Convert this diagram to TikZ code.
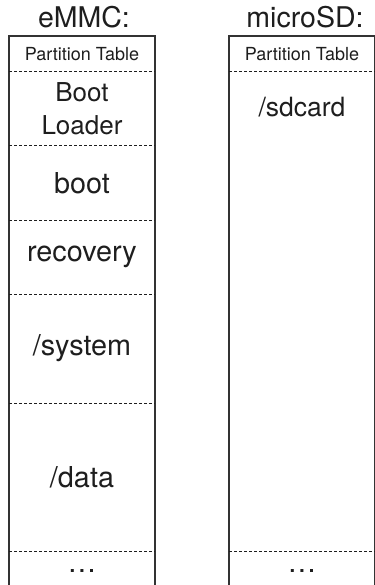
\documentclass[tikz,border=0pt]{standalone}
\usepackage{fontspec}
\setmainfont{TeX Gyre Heros}
\usetikzlibrary{positioning}
\definecolor{ink}{HTML}{1E1E1E}
\definecolor{rim}{HTML}{333333}
\tikzset{
    slot/.style={
           rectangle,
           draw=none,
           minimum width=146pt,
           inner sep=0pt,
           outer sep=0pt,
           align=center,
           text=ink,
           font=\fontsize{28.8}{33}\selectfont
           },
    smallslot/.style={
           slot,
           font=\fontsize{18}{20}\selectfont
           },
    title/.style={
              inner sep=0pt,
              anchor=base,
              text=ink,
              font=\fontsize{28.5}{33}\selectfont
                  },
    frame/.style={
                  draw=rim,
                  line width=1.3pt
                  },
    divider/.style={
                  draw=ink,
                  line width=1pt,
                  dash pattern=on 3pt off 2pt
                  },
}
\begin{document}
\begin{tikzpicture}[x=1pt, y=-1pt, node distance=0pt]
  \useasboundingbox (0,0) rectangle (374,585);
     % eMMC
     \node[title]  (emmc)                                         at (84,27.5) {eMMC:};
     \node[smallslot, minimum height=36pt] (emmcpt)                 at (82,54)   {Partition Table};
     \node[slot, minimum height=74pt, font=\fontsize{26}{33}\selectfont]
                                        (emmcbl)   [below=of emmcpt]   {Boot\\Loader};
     \node[slot, minimum height=74pt]   (emmcboot) [below=of emmcbl]   {boot};
     \node[slot, minimum height=74pt]   (emmcrec)  [below=of emmcboot] {recovery};
     \node[slot, minimum height=109pt]  (emmcsys)  [below=of emmcrec]  {/system};
     \node[slot, minimum height=148pt]  (emmcdata) [below=of emmcsys]  {/data};
     \node[slot, minimum height=40pt]   (emmcdots) [below=of emmcdata] {\dots};
     % microSD
     \node[title]  (sd)                                           at (305,27.5) {microSD:};
     \node[smallslot, minimum height=36pt] (sdpt)                   at (302,54)   {Partition Table};
     \node[slot, minimum height=479pt]  (sdcard)   [below=of sdpt]     {};
     \node[slot, minimum width=0pt, font=\fontsize{26.5}{30}\selectfont]
                                        (sdtext)   [below=25pt of sdpt] {/sdcard};
     \node[slot, minimum height=40pt]   (sddots)   [below=of sdcard]   {\dots};

     \draw[frame] (emmcdots.south west) -- (emmcpt.north west) -- (emmcpt.north east) -- (emmcdots.south east);
     \draw[frame] (sddots.south west) -- (sdpt.north west) -- (sdpt.north east) -- (sddots.south east);
     \path[divider]
      (emmcpt.south west)   edge (emmcpt.south east)
      (emmcbl.south west)   edge (emmcbl.south east)
      (emmcboot.south west) edge (emmcboot.south east)
      (emmcrec.south west)  edge (emmcrec.south east)
      (emmcsys.south west)  edge (emmcsys.south east)
      (emmcdata.south west) edge (emmcdata.south east)
      (sdpt.south west)     edge (sdpt.south east)
      (sdcard.south west)   edge (sdcard.south east)

      ;
\end{tikzpicture}
\end{document}
